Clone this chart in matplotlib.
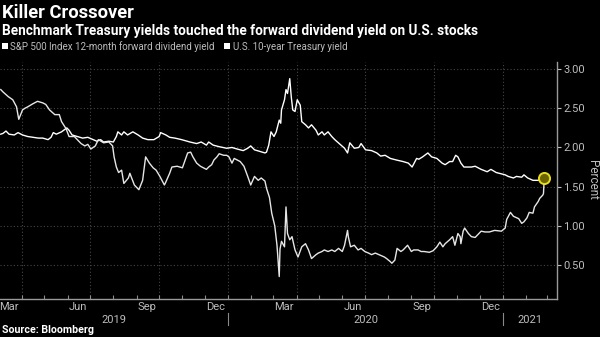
import matplotlib
matplotlib.use("Agg")
import matplotlib.pyplot as plt
import matplotlib.dates as mdates
import matplotlib.transforms as mtransforms
from matplotlib.patches import Patch
import pandas as pd

# 10-year Treasury yield
treasury_dates = [
    "2019-03-04", "2019-03-07", "2019-03-14", "2019-03-20", "2019-03-25", "2019-03-28",
    "2019-04-02", "2019-04-05", "2019-04-09", "2019-04-16", "2019-04-22", "2019-04-29",
    "2019-05-03", "2019-05-08", "2019-05-15", "2019-05-21", "2019-05-24", "2019-05-30",
    "2019-06-03", "2019-06-10", "2019-06-14", "2019-06-19", "2019-06-24", "2019-06-28",
    "2019-07-02", "2019-07-08", "2019-07-12", "2019-07-19", "2019-07-26", "2019-07-31",
    "2019-08-02", "2019-08-05", "2019-08-08", "2019-08-12", "2019-08-15", "2019-08-21",
    "2019-08-23", "2019-08-29", "2019-09-03", "2019-09-04", "2019-09-09", "2019-09-12",
    "2019-09-13", "2019-09-18", "2019-09-23", "2019-09-27", "2019-10-02", "2019-10-08",
    "2019-10-10", "2019-10-15", "2019-10-18", "2019-10-25", "2019-11-01", "2019-11-05",
    "2019-11-08", "2019-11-12", "2019-11-15", "2019-11-20", "2019-11-25", "2019-12-03",
    "2019-12-06", "2019-12-10", "2019-12-13", "2019-12-17", "2019-12-20", "2019-12-26",
    "2019-12-30", "2020-01-02", "2020-01-06", "2020-01-09", "2020-01-13", "2020-01-17",
    "2020-01-22", "2020-01-27", "2020-01-31", "2020-02-05", "2020-02-10", "2020-02-14",
    "2020-02-19", "2020-02-21", "2020-02-25", "2020-02-28", "2020-03-03", "2020-03-06",
    "2020-03-09", "2020-03-10", "2020-03-12", "2020-03-16", "2020-03-18", "2020-03-20",
    "2020-03-23", "2020-03-26", "2020-03-30", "2020-04-03", "2020-04-08", "2020-04-13",
    "2020-04-17", "2020-04-21", "2020-04-27", "2020-04-30", "2020-05-05", "2020-05-08",
    "2020-05-13", "2020-05-18", "2020-05-22", "2020-05-27", "2020-06-01", "2020-06-04",
    "2020-06-08", "2020-06-09", "2020-06-12", "2020-06-17", "2020-06-22", "2020-06-26",
    "2020-07-01", "2020-07-06", "2020-07-10", "2020-07-15", "2020-07-22", "2020-07-27",
    "2020-07-30", "2020-08-04", "2020-08-06", "2020-08-10", "2020-08-13", "2020-08-18",
    "2020-08-21", "2020-08-27", "2020-09-01", "2020-09-04", "2020-09-10", "2020-09-14",
    "2020-09-18", "2020-09-25", "2020-09-30", "2020-10-05", "2020-10-09", "2020-10-13",
    "2020-10-16", "2020-10-22", "2020-10-26", "2020-10-29", "2020-11-02", "2020-11-05",
    "2020-11-06", "2020-11-09", "2020-11-11", "2020-11-16", "2020-11-20", "2020-11-25",
    "2020-11-30", "2020-12-03", "2020-12-08", "2020-12-14", "2020-12-21", "2020-12-30",
    "2021-01-04", "2021-01-06", "2021-01-11", "2021-01-15", "2021-01-22", "2021-01-26",
    "2021-01-29", "2021-02-02", "2021-02-05", "2021-02-10", "2021-02-12", "2021-02-17",
    "2021-02-19", "2021-02-23", "2021-02-24", "2021-02-25",
]
treasury_yield = [
    2.74, 2.71, 2.65, 2.61, 2.52, 2.36,
    2.48, 2.50, 2.52, 2.56, 2.59, 2.57,
    2.55, 2.48, 2.42, 2.42, 2.33, 2.24,
    2.14, 2.14, 2.10, 2.05, 2.02, 2.04,
    1.98, 2.02, 2.10, 2.06, 2.07, 2.02,
    1.88, 1.75, 1.68, 1.71, 1.54, 1.61,
    1.67, 1.52, 1.47, 1.46, 1.58, 1.80,
    1.88, 1.80, 1.74, 1.71, 1.63, 1.52,
    1.56, 1.67, 1.75, 1.76, 1.74, 1.85,
    1.93, 1.94, 1.88, 1.80, 1.76, 1.72,
    1.75, 1.78, 1.84, 1.88, 1.92, 1.90,
    1.90, 1.88, 1.80, 1.86, 1.84, 1.82,
    1.76, 1.63, 1.52, 1.63, 1.58, 1.61,
    1.57, 1.48, 1.36, 1.16, 1.00, 0.75,
    0.35, 0.70, 0.80, 0.73, 1.24, 0.90,
    0.82, 0.86, 0.69, 0.60, 0.73, 0.77,
    0.69, 0.58, 0.63, 0.65, 0.67, 0.69,
    0.67, 0.69, 0.67, 0.71, 0.67, 0.75,
    0.94, 0.86, 0.73, 0.75, 0.69, 0.71,
    0.67, 0.65, 0.63, 0.65, 0.62, 0.60,
    0.58, 0.54, 0.52, 0.56, 0.71, 0.67,
    0.69, 0.75, 0.67, 0.69, 0.69, 0.67,
    0.67, 0.66, 0.68, 0.73, 0.79, 0.73,
    0.77, 0.82, 0.86, 0.75, 0.90, 0.86,
    0.77, 0.93, 0.97, 0.90, 0.86, 0.85,
    0.90, 0.93, 0.92, 0.92, 0.94, 0.93,
    0.97, 1.08, 1.17, 1.12, 1.09, 1.03,
    1.05, 1.10, 1.17, 1.16, 1.24, 1.31,
    1.35, 1.39, 1.41, 1.60,
]

# S&P 500 12-month forward dividend yield
dividend_dates = [
    "2019-03-04", "2019-03-07", "2019-03-11", "2019-03-15", "2019-03-22", "2019-03-27",
    "2019-04-02", "2019-04-09", "2019-04-16", "2019-04-23", "2019-04-29", "2019-05-06",
    "2019-05-10", "2019-05-13", "2019-05-17", "2019-05-24", "2019-05-31", "2019-06-03",
    "2019-06-07", "2019-06-14", "2019-06-21", "2019-06-28", "2019-07-05", "2019-07-10",
    "2019-07-15", "2019-07-19", "2019-07-26", "2019-08-01", "2019-08-05", "2019-08-07",
    "2019-08-12", "2019-08-15", "2019-08-20", "2019-08-27", "2019-09-03", "2019-09-09",
    "2019-09-16", "2019-09-24", "2019-10-01", "2019-10-03", "2019-10-10", "2019-10-15",
    "2019-10-22", "2019-10-31", "2019-11-11", "2019-11-20", "2019-11-26", "2019-12-03",
    "2019-12-06", "2019-12-12", "2019-12-20", "2019-12-30", "2020-01-06", "2020-01-13",
    "2020-01-21", "2020-01-27", "2020-01-31", "2020-02-05", "2020-02-12", "2020-02-19",
    "2020-02-21", "2020-02-24", "2020-02-27", "2020-03-02", "2020-03-05", "2020-03-09",
    "2020-03-11", "2020-03-12", "2020-03-16", "2020-03-18", "2020-03-20", "2020-03-23",
    "2020-03-25", "2020-03-27", "2020-03-30", "2020-04-02", "2020-04-06", "2020-04-08",
    "2020-04-13", "2020-04-17", "2020-04-21", "2020-04-27", "2020-04-30", "2020-05-05",
    "2020-05-08", "2020-05-13", "2020-05-18", "2020-05-22", "2020-05-28", "2020-06-04",
    "2020-06-08", "2020-06-11", "2020-06-17", "2020-06-23", "2020-06-26", "2020-07-02",
    "2020-07-10", "2020-07-17", "2020-07-22", "2020-07-28", "2020-08-04", "2020-08-12",
    "2020-08-21", "2020-08-28", "2020-09-02", "2020-09-08", "2020-09-11", "2020-09-16",
    "2020-09-23", "2020-09-28", "2020-10-05", "2020-10-12", "2020-10-16", "2020-10-22",
    "2020-10-26", "2020-10-30", "2020-11-02", "2020-11-06", "2020-11-10", "2020-11-16",
    "2020-11-20", "2020-11-25", "2020-12-03", "2020-12-11", "2020-12-16", "2020-12-23",
    "2021-01-04", "2021-01-08", "2021-01-15", "2021-01-19", "2021-01-26", "2021-01-29",
    "2021-02-03", "2021-02-10", "2021-02-17", "2021-02-22", "2021-02-25",
]
dividend_yield = [
    2.17, 2.18, 2.21, 2.17, 2.16, 2.19,
    2.16, 2.14, 2.13, 2.12, 2.12, 2.10,
    2.13, 2.19, 2.17, 2.20, 2.25, 2.22,
    2.16, 2.14, 2.12, 2.13, 2.10, 2.08,
    2.10, 2.07, 2.08, 2.07, 2.14, 2.20,
    2.16, 2.20, 2.16, 2.20, 2.16, 2.12,
    2.10, 2.10, 2.14, 2.19, 2.16, 2.13,
    2.12, 2.10, 2.07, 2.05, 2.07, 2.03,
    2.07, 2.03, 2.01, 1.99, 2.00, 1.98,
    1.96, 1.99, 2.02, 1.97, 1.95, 1.93,
    1.94, 2.03, 2.20, 2.14, 2.20, 2.35,
    2.31, 2.48, 2.61, 2.74, 2.69, 2.88,
    2.65, 2.48, 2.46, 2.61, 2.54, 2.33,
    2.29, 2.25, 2.29, 2.22, 2.16, 2.20,
    2.16, 2.20, 2.14, 2.10, 2.05, 1.99,
    1.93, 2.06, 1.99, 2.00, 2.05, 1.97,
    1.96, 1.93, 1.89, 1.90, 1.86, 1.84,
    1.82, 1.80, 1.75, 1.86, 1.85, 1.88,
    1.93, 1.88, 1.86, 1.80, 1.78, 1.82,
    1.82, 1.90, 1.88, 1.80, 1.75, 1.75,
    1.75, 1.76, 1.72, 1.69, 1.72, 1.68,
    1.65, 1.63, 1.61, 1.63, 1.62, 1.65,
    1.61, 1.58, 1.58, 1.59, 1.61,
]

crossover_date = "2021-02-25"
crossover_value = 1.61

y_ticks = [0.5, 1.0, 1.5, 2.0, 2.5, 3.0]
month_labels = ["Mar", "Jun", "Sep", "Dec", "Mar", "Jun", "Sep", "Dec"]
month_label_dates = ["2019-03-15", "2019-06-15", "2019-09-15", "2019-12-15",
                     "2020-03-15", "2020-06-15", "2020-09-15", "2020-12-15"]
year_labels = ["2019", "2020", "2021"]
year_label_dates = ["2019-08-02", "2020-07-02", "2021-02-06"]
year_breaks = ["2020-01-01", "2021-01-01"]

BG = "black"
GRAY = "#bdbdbd"
GRID = "#454545"

plt.rcParams["font.family"] = ["Roboto", "DejaVu Sans"]

fig = plt.figure(figsize=(6.0, 3.37), dpi=100, facecolor=BG)
ax = fig.add_axes([0.0, 0.1137, 0.9283, 0.7024], facecolor=BG)

t_dates = pd.to_datetime(treasury_dates)
d_dates = pd.to_datetime(dividend_dates)

ax.plot(d_dates, dividend_yield, color="white", lw=1.0, zorder=3)
ax.plot(t_dates, treasury_yield, color="#e6e6e6", lw=1.0, zorder=3)

# yellow ring where the two lines meet
ax.plot(pd.to_datetime([crossover_date]), [crossover_value], marker="o", ms=8,
        mfc="#6b6400", mec="#e8dc1c", mew=1.4, zorder=4, clip_on=False)

ax.set_xlim(pd.Timestamp("2019-03-03"), pd.Timestamp("2021-03-14"))
ax.set_ylim(0.067, 3.093)

# y axis on the right
ax.yaxis.tick_right()
ax.yaxis.set_label_position("right")
ax.set_yticks(y_ticks)
ax.set_yticklabels([f"{v:.2f}" for v in y_ticks])
ax.tick_params(axis="y", colors=GRAY, labelsize=8, length=3, width=0.8,
               direction="out", pad=1.5)
ax.set_ylabel("Percent", color=GRAY, fontsize=8.5, rotation=270, labelpad=10)

# x axis: grid at quarter starts, small inward ticks every month
ax.xaxis.set_major_locator(mdates.MonthLocator(bymonth=[1, 4, 7, 10]))
ax.xaxis.set_minor_locator(mdates.MonthLocator())
ax.xaxis.set_major_formatter(plt.NullFormatter())
ax.tick_params(axis="x", which="both", colors="#8a8a8a", length=3, width=0.8,
               direction="in")

ax.grid(True, which="major", color=GRID, linestyle=(0, (1, 2)), linewidth=0.8)

for side in ["top", "left"]:
    ax.spines[side].set_visible(False)
for side in ["bottom", "right"]:
    ax.spines[side].set_color("#9a9a9a")
    ax.spines[side].set_linewidth(1.0)

trans = mtransforms.blended_transform_factory(ax.transData, ax.transAxes)
for lab, dt in zip(month_labels, month_label_dates):
    ax.text(pd.Timestamp(dt), -0.037, lab, transform=trans, ha="center", va="center",
            color=GRAY, fontsize=8)
for lab, dt in zip(year_labels, year_label_dates):
    ax.text(pd.Timestamp(dt), -0.09, lab, transform=trans, ha="center", va="center",
            color=GRAY, fontsize=8)
for dt in year_breaks:
    ax.plot([pd.Timestamp(dt)] * 2, [-0.062, -0.112], transform=trans, color="#8a8a8a",
            lw=0.8, clip_on=False)

# titles and legend
fig.text(0.004, 0.988, "Killer Crossover", color="white", fontsize=13.2,
         fontweight="bold", va="top", ha="left")
fig.text(0.004, 0.93, "Benchmark Treasury yields touched the forward dividend yield on U.S. stocks",
         color="white", fontsize=9.85, fontweight="bold", va="top", ha="left")

handles = [Patch(facecolor="white", edgecolor="none"), Patch(facecolor="white", edgecolor="none")]
fig.legend(handles, ["S&P 500 Index 12-month forward dividend yield", "U.S. 10-year Treasury yield"],
           loc="upper left", bbox_to_anchor=(0.0, 0.885), ncol=2, frameon=False,
           fontsize=7.0, labelcolor=GRAY, handlelength=0.6, handleheight=0.6,
           handletextpad=0.25, columnspacing=1.0, borderpad=0.2, borderaxespad=0.0)

fig.text(0.004, 0.006, "Source: Bloomberg", color="white", fontsize=7.7,
         fontweight="bold", va="bottom", ha="left")

fig.savefig("out.png", dpi=100, facecolor=BG)
